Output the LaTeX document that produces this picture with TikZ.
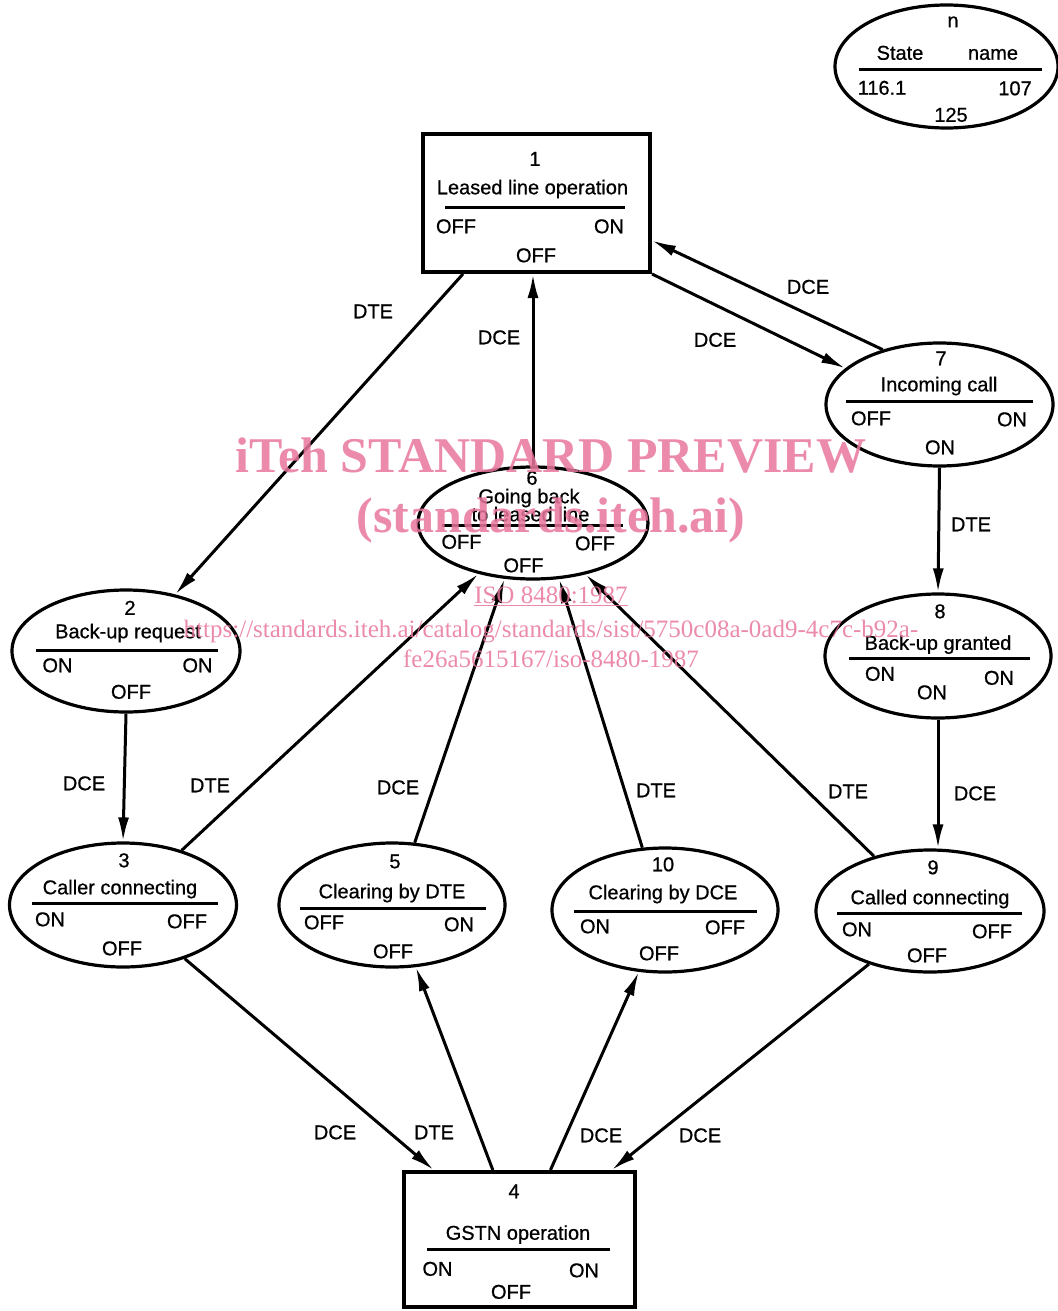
\documentclass[tikz,border=0pt]{standalone}
\usepackage{fontspec}
\setmainfont{Liberation Sans}
\newfontfamily\diagfont{Liberation Sans}[FakeBold=0.7]
\newfontfamily\wmfont{Liberation Serif}
\usetikzlibrary{arrows.meta}
\usetikzlibrary{shapes}
\definecolor{wmpink}{RGB}{232,118,155}

\begin{document}
\begin{tikzpicture}[x=1pt,y=-1pt]
\tikzstyle{state}=[ellipse,draw,line width=3.2pt,inner sep=0pt]
\tikzstyle{opbox}=[rectangle,draw,line width=4pt,inner sep=0pt]
\tikzstyle{txt}=[inner sep=0pt,text height=14.5pt,text depth=0pt,font=\diagfont\fontsize{20}{24}\selectfont]
\tikzstyle{divider}=[line width=3pt]
\tikzstyle{transit}=[line width=3pt,-{Latex[length=24pt,width=11pt]}]
\tikzstyle{wmtext}=[inner sep=0pt,anchor=base,text=wmpink,text opacity=0.85]
\useasboundingbox (0,0) rectangle (1057,1311);

% legend
\node[state,minimum width=223pt,minimum height=123pt] (lg) at (946.5,66.5) {};
\node[txt] (lgn) at (953,20) {n};
\node[txt] (lgs) at (900,52.5) {State};
\node[txt] (lgm) at (993,52.5) {name};
\draw[divider] (859,70) -- (1042,70);
\node[txt] (lgl) at (882,87.5) {116.1};
\node[txt] (lgr) at (1015,88) {107};
\node[txt] (lgb) at (951,114.5) {125};

% 1
\node[opbox,minimum width=227pt,minimum height=138pt] (s1) at (536.5,203) {};
\node[txt] (s1n) at (535,158.5) {1};
\node[txt] (s1t) at (532.5,187) {Leased line operation};
\draw[divider] (445,207) -- (625,207);
\node[txt] (s1l) at (456,226) {OFF};
\node[txt] (s1r) at (609,226) {ON};
\node[txt] (s1b) at (536,255) {OFF};

% 7
\node[state,minimum width=227pt,minimum height=123pt] (s7) at (939.5,404.5) {};
\node[txt] (s7n) at (941,358) {7};
\node[txt] (s7t) at (939,384) {Incoming call};
\draw[divider] (846,401) -- (1033,401);
\node[txt] (s7l) at (871,418) {OFF};
\node[txt] (s7r) at (1012,419) {ON};
\node[txt] (s7b) at (940,447) {ON};

% 6
\node[state,minimum width=230pt,minimum height=112pt] (s6) at (533,523) {};
\node[txt] (s6n) at (532,477.5) {6};
\node[txt] (s6t) at (529,496) {Going back};
\node[txt] (s6u) at (530.5,514) {to leased line};
\draw[divider] (442,525) -- (623,525);
\node[txt] (s6l) at (461.5,541.5) {OFF};
\node[txt] (s6r) at (595,543) {OFF};
\node[txt] (s6b) at (523.5,565) {OFF};

% 2
\node[state,minimum width=228pt,minimum height=122pt] (s2) at (126,651) {};
\node[txt] (s2n) at (130,607.5) {2};
\node[txt] (s2t) at (128,631) {Back-up request};
\draw[divider] (36,650) -- (218,650);
\node[txt] (s2l) at (57.5,665) {ON};
\node[txt] (s2r) at (197.5,665) {ON};
\node[txt] (s2b) at (131,691.5) {OFF};

% 8
\node[state,minimum width=226pt,minimum height=124pt] (s8) at (938,656) {};
\node[txt] (s8n) at (940,611) {8};
\node[txt] (s8t) at (938,642.5) {Back-up granted};
\draw[divider] (849,658) -- (1030,658);
\node[txt] (s8l) at (880,673.5) {ON};
\node[txt] (s8r) at (999,677.5) {ON};
\node[txt] (s8b) at (932,692) {ON};

% 3
\node[state,minimum width=227pt,minimum height=124pt] (s3) at (123,905) {};
\node[txt] (s3n) at (124,860) {3};
\node[txt] (s3t) at (120,887) {Caller connecting};
\draw[divider] (32,903) -- (218,903);
\node[txt] (s3l) at (50,919) {ON};
\node[txt] (s3r) at (187,921) {OFF};
\node[txt] (s3b) at (122,948) {OFF};

% 5
\node[state,minimum width=226pt,minimum height=124pt] (s5) at (392,905) {};
\node[txt] (s5n) at (395,861) {5};
\node[txt] (s5t) at (392,891) {Clearing by DTE};
\draw[divider] (300,908) -- (486,908);
\node[txt] (s5l) at (324,922) {OFF};
\node[txt] (s5r) at (459,924) {ON};
\node[txt] (s5b) at (393,951) {OFF};

% 10
\node[state,minimum width=226pt,minimum height=124pt] (s10) at (665,910) {};
\node[txt] (s10n) at (663,864) {10};
\node[txt] (s10t) at (663,892) {Clearing by DCE};
\draw[divider] (574,911) -- (757,911);
\node[txt] (s10l) at (595,926) {ON};
\node[txt] (s10r) at (725,927) {OFF};
\node[txt] (s10b) at (659,953) {OFF};

% 9
\node[state,minimum width=228pt,minimum height=122pt] (s9) at (930,911) {};
\node[txt] (s9n) at (933,867) {9};
\node[txt] (s9t) at (930,897) {Called connecting};
\draw[divider] (837,913) -- (1022,913);
\node[txt] (s9l) at (857,929) {ON};
\node[txt] (s9r) at (992,931) {OFF};
\node[txt] (s9b) at (927,955) {OFF};

% 4
\node[opbox,minimum width=231pt,minimum height=135pt] (s4) at (519.5,1239.5) {};
\node[txt] (s4n) at (514,1191) {4};
\node[txt] (s4t) at (518,1232.5) {GSTN operation};
\draw[divider] (427,1249) -- (610,1249);
\node[txt] (s4l) at (437.5,1268.5) {ON};
\node[txt] (s4r) at (584,1270) {ON};
\node[txt] (s4b) at (511,1291.5) {OFF};

% transitions
\draw[transit] (s1.224) -- (s2.49);
\draw[transit] (s6.north) -- (s6.north |- s1.south);
\draw[transit] (s7.136) -- (s1.342);
\draw[transit] (s1.south east) -- (s7.159);
\draw[transit] (s7.south) -- (s8.north);
\draw[transit] (s8.south) -- (s8.south |- s9.north);
\draw[transit] (s2.south) -- (s3.north);
\draw[transit] (s3) -- (s6);
\draw[transit] (s5.70) -- (s6.243);
\draw[transit] (s10.110) -- (s6.295);
\draw[transit] (s9) -- (s6);
\draw[transit] (s3.-41) -- (s4.141);
\draw[transit] (s4.111) -- (s5.291);
\draw[transit] (s4.66) -- (s10.247);
\draw[transit] (s9.221) -- (s4.37);

% who signals
\node[txt] (l12) at (373,311) {DTE};
\node[txt] (l61) at (499,337) {DCE};
\node[txt] (l71) at (808,286.5) {DCE};
\node[txt] (l17) at (715,339.5) {DCE};
\node[txt] (l78) at (971,524) {DTE};
\node[txt] (l89) at (975,793) {DCE};
\node[txt] (l23) at (84,783) {DCE};
\node[txt] (l36) at (210,785) {DTE};
\node[txt] (l56) at (398,787) {DCE};
\node[txt] (l106) at (656,790) {DTE};
\node[txt] (l96) at (848,791) {DTE};
\node[txt] (l34) at (335,1132) {DCE};
\node[txt] (l45) at (434,1132) {DTE};
\node[txt] (l410) at (601,1135) {DCE};
\node[txt] (l94) at (700,1135) {DCE};

% watermark
\node[wmtext,font=\wmfont\bfseries\fontsize{50}{60}\selectfont] (wm1) at (551,472) {iTeh STANDARD PREVIEW};
\node[wmtext,font=\wmfont\bfseries\fontsize{50}{60}\selectfont] (wm2) at (551,532) {(standards.iteh.ai)};
\node[wmtext,font=\wmfont\fontsize{25}{30}\selectfont] (wm3) at (551,603) {\underline{ISO 8480:1987}};
\node[wmtext,font=\wmfont\fontsize{25}{30}\selectfont] (wm4) at (551,637) {https://standards.iteh.ai/catalog/standards/sist/5750c08a-0ad9-4c7c-b92a-};
\node[wmtext,font=\wmfont\fontsize{25}{30}\selectfont] (wm5) at (551,667) {fe26a5615167/iso-8480-1987};
\end{tikzpicture}
\end{document}
